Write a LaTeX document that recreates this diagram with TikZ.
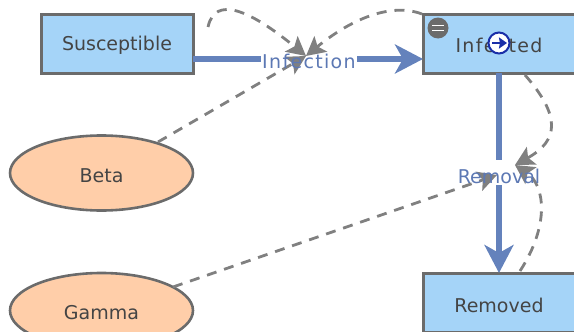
\documentclass[tikz,border=0pt]{standalone}
\usepackage{fontspec}
\setmainfont{DejaVu Sans}
\usetikzlibrary{arrows.meta,shapes.geometric}
\definecolor{stockfill}{HTML}{A5D4F8}
\definecolor{auxfill}{HTML}{FFCEA9}
\definecolor{edgegray}{HTML}{6B6B6B}
\definecolor{linkgray}{HTML}{808080}
\definecolor{flowblue}{HTML}{6482BC}
\definecolor{labelblue}{HTML}{5C78B4}
\definecolor{inktext}{HTML}{444444}
\definecolor{badgeblue}{HTML}{1A2FA8}
\tikzset{
  stockbox/.style={draw=edgegray,fill=stockfill,line width=3pt,minimum width=152pt,minimum height=59pt,inner sep=0pt,outer sep=0pt},
  auxell/.style={ellipse,draw=edgegray,fill=auxfill,line width=2.6pt,minimum width=183pt,minimum height=75pt,inner sep=0pt,outer sep=0pt},
  nametext/.style={text=inktext,font=\fontsize{19}{22}\selectfont,inner sep=0pt},
  flowline/.style={draw=flowblue,line width=5.5pt,-{Stealth[length=28pt,width=29pt,inset=8pt]}},
  linkline/.style={draw=linkgray,line width=2.8pt,dash pattern=on 10pt off 8pt,-{Stealth[length=19pt,width=20pt,inset=4pt,fill=linkgray]}},
  flowtext/.style={text=labelblue,font=\fontsize{19}{22}\selectfont,inner sep=0pt},
}
\newfontfamily\widerface[LetterSpace=7]{DejaVu Sans}
\begin{document}
\begin{tikzpicture}[x=1pt,y=-1pt]
\useasboundingbox (0,0) rectangle (574,332);
\clip (0,0) rectangle (574,332);
\node[stockbox] (sus) at (117,43.5) {};
\node[stockbox] (inf) at (499,43.5) {};
\node[stockbox] (rem) at (499,302.5) {};
\node[auxell] (beta) at (101.5,173) {};
\node[auxell] (gamma) at (101.5,310.5) {};
\node[nametext] (sust) at (117,45) {Susceptible};
\node[nametext] (inft) at (499,45) {\widerface Infected};
\node[nametext] (remt) at (499,305) {Removed};
\node[nametext] (betat) at (101.5,176) {Beta};
\node[nametext] (gamt) at (101.5,313) {Gamma};
% flows
\coordinate (infc) at (309,61);
\coordinate (remc) at (499,176);
\draw[flowline] (sus.east |- 0,59) -- (inf.west |- 0,59);
\draw[flowline] (inf.south) -- (rem.north);
\fill[white] (261,47) rectangle (357,72);
\fill[white] (458,160) rectangle (540,185);
% links
\coordinate (tipa) at (306,56);
\coordinate (tipb) at (515,165);
\coordinate (tipc) at (497,175);
\coordinate (sa) at (208,27);
\coordinate (ia) at (422,14);
\coordinate (ib) at (525,75);
\coordinate (rb) at (520,271);
\coordinate (ba) at (158,142);
\coordinate (ga) at (173,287);
\draw[linkline] (sa) .. controls (215,-5) and (250,10) .. (tipa);
\draw[linkline] (ia) .. controls (390,2) and (350,20) .. (tipa);
\draw[linkline] (ba) -- (tipa);
\draw[linkline] (ib) .. controls (560,115) and (560,140) .. (tipb);
\draw[linkline] (rb) .. controls (550,225) and (545,185) .. (tipb);
\draw[linkline] (ga) -- (tipc);
\node[flowtext] (inflabel) at (infc) {\widerface Infection};
\node[flowtext] (remlabel) at (remc) {Removal};
% badges
\node[circle,fill=edgegray,minimum size=21pt,inner sep=0pt] (minus) at (438,28) {};
\draw[white,line width=1.8pt] ([xshift=-6pt,yshift=-2.5pt]minus.center) -- ([xshift=6pt,yshift=-2.5pt]minus.center);
\draw[white,line width=1.8pt] ([xshift=-6pt,yshift=2.5pt]minus.center) -- ([xshift=6pt,yshift=2.5pt]minus.center);
\node[circle,draw=badgeblue,fill=white,line width=2pt,minimum size=21pt,inner sep=0pt] (go) at (499,43) {};
\draw[badgeblue,line width=2.6pt,-{Stealth[length=8pt,width=11pt,inset=1pt]}] ([xshift=-7pt]go.center) -- ([xshift=8pt]go.center);
\end{tikzpicture}
\end{document}
